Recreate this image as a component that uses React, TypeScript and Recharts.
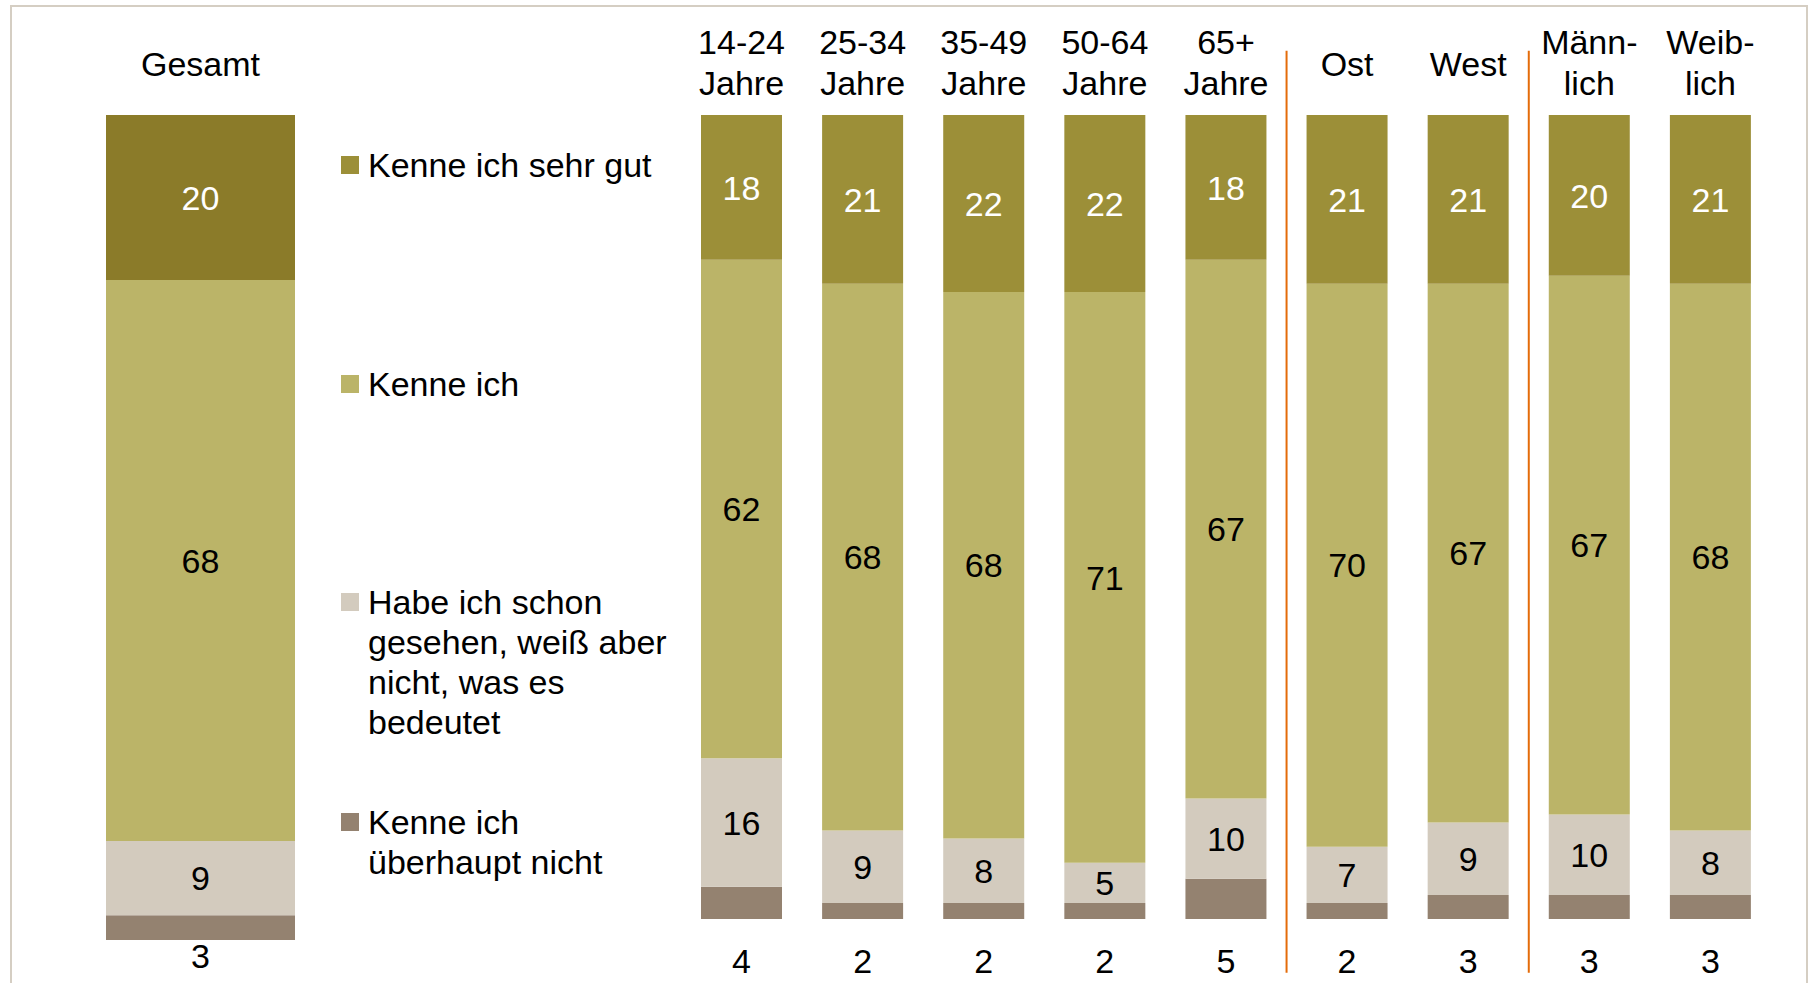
import React from 'react';
import { BarChart, Bar, XAxis, YAxis, LabelList, Legend, ReferenceLine } from 'recharts';

const FONT = "'Liberation Sans', Arial, Helvetica, sans-serif";

// Gesamt column
const totalLabel = ['Gesamt'];
const totalSehrGut = [20];
const totalKenne = [68];
const totalGesehen = [9];
const totalNicht = [3];

// breakdown columns
const groups = [
  '14-24\nJahre',
  '25-34\nJahre',
  '35-49\nJahre',
  '50-64\nJahre',
  '65+\nJahre',
  'Ost',
  'West',
  'Männ-\nlich',
  'Weib-\nlich',
];
const sehrGut = [18, 21, 22, 22, 18, 21, 21, 20, 21];
const kenne = [62, 68, 68, 71, 67, 70, 67, 67, 68];
const gesehen = [16, 9, 8, 5, 10, 7, 9, 10, 8];
const nicht = [4, 2, 2, 2, 5, 2, 3, 3, 3];

const seriesNames = [
  'Kenne ich sehr gut',
  'Kenne ich',
  'Habe ich schon\ngesehen, weiß aber\nnicht, was es\nbedeutet',
  'Kenne ich\nüberhaupt nicht',
];

// separators sit at the left edge of these columns
const dividers = ['Ost', 'Männ-\nlich'];

const COLORS = {
  sehrGut: '#9C8F38',
  sehrGutTotal: '#8B7B29',
  kenne: '#BBB468',
  gesehen: '#D3CBBE',
  nicht: '#948270',
  divider: '#E46C0A',
};

const totalData = totalLabel.map((name, i) => ({
  name,
  sehrGut: totalSehrGut[i],
  kenne: totalKenne[i],
  gesehen: totalGesehen[i],
  nicht: totalNicht[i],
}));

const groupData = groups.map((name, i) => ({
  name,
  sehrGut: sehrGut[i],
  kenne: kenne[i],
  gesehen: gesehen[i],
  nicht: nicht[i],
}));

const HeaderTick = ({ x, payload }: any) => {
  const lines = String(payload.value).split('\n');
  const first = lines.length === 1 ? 76 : 54;
  return (
    <text x={x} textAnchor="middle" fontFamily={FONT} fontSize={34} fill="#000">
      {lines.map((l, i) => (
        <tspan key={i} x={x} y={first + i * 41}>
          {l}
        </tspan>
      ))}
    </text>
  );
};

const centerLabel = (color: string) => (props: any) => {
  const { x, y, width, height, value } = props;
  return (
    <text
      x={x + width / 2}
      y={y + height / 2}
      dy="0.36em"
      textAnchor="middle"
      fill={color}
      fontSize={34}
      fontFamily={FONT}
    >
      {value}
    </text>
  );
};

const bottomLabel = (gap: number) => (props: any) => {
  const { x, y, width, height, value } = props;
  return (
    <text x={x + width / 2} y={y + height + gap} textAnchor="middle" fill="#000" fontSize={34} fontFamily={FONT}>
      {value}
    </text>
  );
};

const legendTops = [145, 364, 582, 802];
const legendColors = [COLORS.sehrGut, COLORS.kenne, COLORS.gesehen, COLORS.nicht];

const renderLegend = () => (
  <div style={{ position: 'relative' }}>
    {seriesNames.map((name, i) => (
      <div
        key={name}
        style={{ position: 'absolute', left: 341, top: legendTops[i], display: 'flex', alignItems: 'flex-start' }}
      >
        <span
          style={{ width: 18, height: 18, background: legendColors[i], marginTop: 11, marginRight: 9, flex: 'none' }}
        />
        <span
          style={{ whiteSpace: 'pre', fontSize: 34, lineHeight: '40px', fontFamily: FONT, color: '#000' }}
        >
          {name}
        </span>
      </div>
    ))}
  </div>
);

export default function App() {
  return (
    <div
      style={{
        position: 'absolute',
        left: 0,
        top: 0,
        width: 1812,
        height: 983,
        overflow: 'hidden',
        background: '#fff',
        fontFamily: FONT,
      }}
    >
      <div
        style={{
          position: 'absolute',
          left: 10,
          top: 5,
          width: 1798,
          height: 1000,
          border: '2px solid #D5CEC3',
          boxSizing: 'border-box',
        }}
      />

      {/* Gesamt + legend */}
      <div style={{ position: 'absolute', left: 0, top: 0 }}>
        <BarChart
          width={680}
          height={983}
          data={totalData}
          margin={{ top: 55, right: 385, bottom: 43, left: 106 }}
          barCategoryGap={0}
        >
          <XAxis
            dataKey="name"
            orientation="top"
            height={60}
            axisLine={false}
            tickLine={false}
            tick={<HeaderTick />}
            interval={0}
          />
          <YAxis hide domain={[0, 100]} />
          <Legend
            layout="vertical"
            align="center"
            verticalAlign="middle"
            content={renderLegend}
            wrapperStyle={{ left: 0, top: 0, width: 0, height: 0, margin: 0 }}
          />
          <Bar dataKey="nicht" stackId="a" fill={COLORS.nicht} isAnimationActive={false}>
            <LabelList dataKey="nicht" content={bottomLabel(28)} />
          </Bar>
          <Bar dataKey="gesehen" stackId="a" fill={COLORS.gesehen} isAnimationActive={false}>
            <LabelList dataKey="gesehen" content={centerLabel('#000')} />
          </Bar>
          <Bar dataKey="kenne" stackId="a" fill={COLORS.kenne} isAnimationActive={false}>
            <LabelList dataKey="kenne" content={centerLabel('#000')} />
          </Bar>
          <Bar dataKey="sehrGut" stackId="a" fill={COLORS.sehrGutTotal} isAnimationActive={false}>
            <LabelList dataKey="sehrGut" content={centerLabel('#fff')} />
          </Bar>
        </BarChart>
      </div>

      {/* breakdown columns */}
      <div style={{ position: 'absolute', left: 0, top: 0 }}>
        <BarChart
          width={1812}
          height={983}
          data={groupData}
          margin={{ top: 55, right: 41, bottom: 64, left: 681 }}
          barSize={81}
        >
          <XAxis
            dataKey="name"
            orientation="top"
            height={60}
            axisLine={false}
            tickLine={false}
            tick={<HeaderTick />}
            interval={0}
          />
          <YAxis hide domain={[0, 100]} />
          <Bar dataKey="nicht" stackId="a" fill={COLORS.nicht} isAnimationActive={false}>
            <LabelList dataKey="nicht" content={bottomLabel(54)} />
          </Bar>
          <Bar dataKey="gesehen" stackId="a" fill={COLORS.gesehen} isAnimationActive={false}>
            <LabelList dataKey="gesehen" content={centerLabel('#000')} />
          </Bar>
          <Bar dataKey="kenne" stackId="a" fill={COLORS.kenne} isAnimationActive={false}>
            <LabelList dataKey="kenne" content={centerLabel('#000')} />
          </Bar>
          <Bar dataKey="sehrGut" stackId="a" fill={COLORS.sehrGut} isAnimationActive={false}>
            <LabelList dataKey="sehrGut" content={centerLabel('#fff')} />
          </Bar>
          {dividers.map((d) => (
            <ReferenceLine
              key={d}
              ifOverflow="visible"
              position="start"
              stroke={COLORS.divider}
              strokeWidth={2}
              segment={[
                { x: d, y: 108 },
                { x: d, y: -6.7 },
              ]}
            />
          ))}
        </BarChart>
      </div>
    </div>
  );
}
